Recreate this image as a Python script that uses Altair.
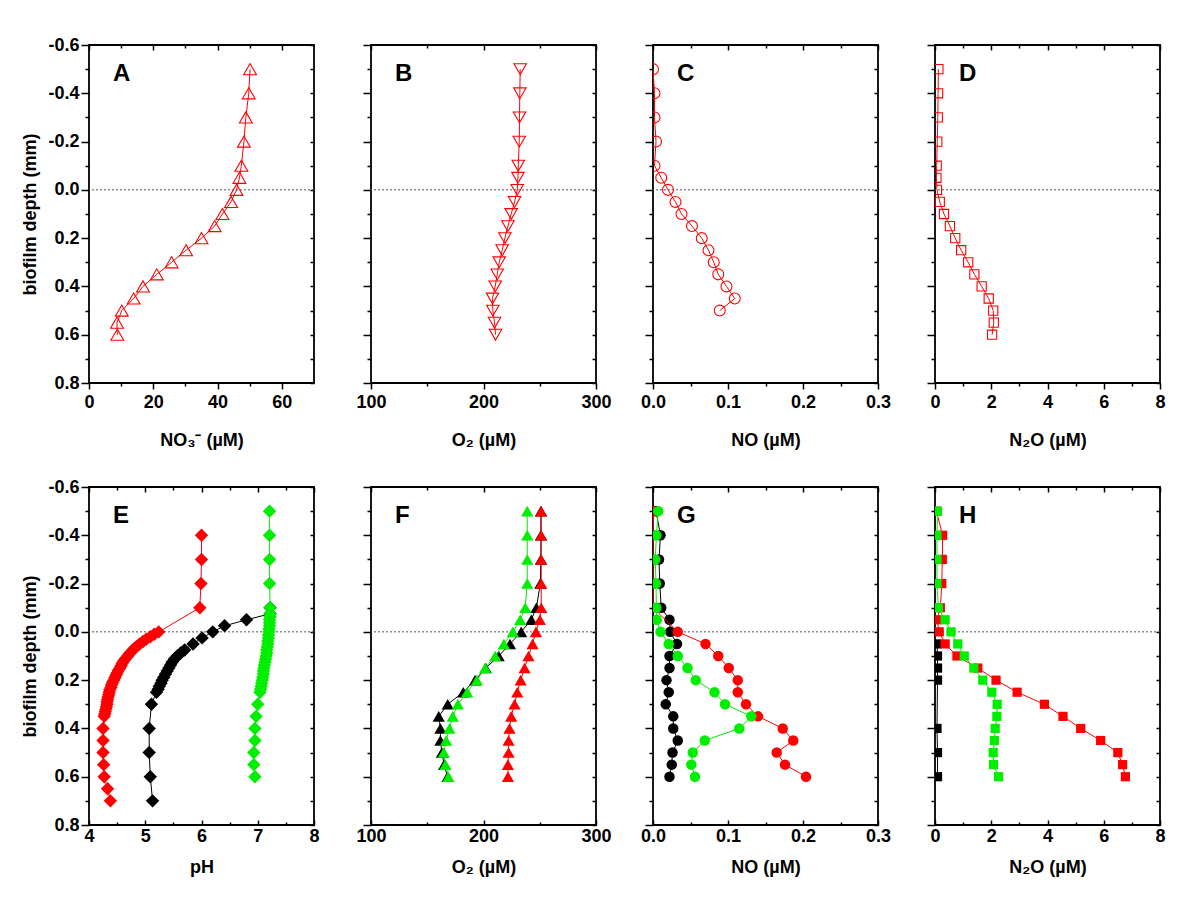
import altair as alt
import pandas as pd

FONT = "Liberation Sans"
RED, GREEN, BLACK = "#ff0000", "#00ee00", "#000000"

# ---------------- data ----------------
depth_std = [-0.5, -0.4, -0.3, -0.2, -0.1, -0.05, 0.0, 0.05, 0.1, 0.15, 0.2,
             0.25, 0.3, 0.35, 0.4, 0.45, 0.5, 0.55, 0.6]

A_no3 = [50.1, 49.7, 48.8, 48.2, 47.4, 46.8, 45.9, 44.2, 41.5, 39.1, 35.0,
         30.2, 25.7, 21.1, 16.8, 13.9, 10.2, 8.7, 8.8]
B_o2 = [232.6, 232.3, 232.0, 231.8, 230.9, 230.6, 230.0, 227.6, 224.6, 221.7,
        219.0, 216.6, 214.0, 212.2, 210.4, 208.0, 208.3, 209.8, 210.7]
C_depth = [-0.5, -0.4, -0.3, -0.2, -0.1, -0.05, 0.0, 0.05, 0.1, 0.15, 0.2,
           0.25, 0.3, 0.35, 0.4, 0.45, 0.5]
C_no = [0.0, 0.002, 0.002, 0.004, 0.002, 0.011, 0.020, 0.030, 0.038, 0.052,
        0.065, 0.074, 0.081, 0.087, 0.098, 0.109, 0.089]
D_n2o = [0.12, 0.11, 0.10, 0.08, 0.06, 0.05, 0.07, 0.17, 0.32, 0.53, 0.72,
         0.93, 1.18, 1.40, 1.66, 1.91, 2.07, 2.09, 2.03]

E_red_depth = [-0.4, -0.3, -0.2, -0.1,
               0.0, 0.01, 0.02, 0.03, 0.04, 0.05, 0.06, 0.07, 0.08, 0.09,
               0.10, 0.11, 0.12, 0.13, 0.14, 0.15, 0.16, 0.17, 0.18, 0.19,
               0.20, 0.21, 0.22, 0.23, 0.24, 0.25, 0.26, 0.27, 0.28, 0.29,
               0.30, 0.31, 0.32, 0.33, 0.34, 0.35,
               0.40, 0.45, 0.50, 0.55, 0.60, 0.65, 0.70]
E_red_ph = [6.00, 6.00, 5.99, 5.97,
            5.24, 5.16, 5.09, 5.02, 4.96, 4.90, 4.85, 4.80, 4.76, 4.72,
            4.69, 4.65, 4.62, 4.59, 4.57, 4.55, 4.52, 4.50, 4.48, 4.46,
            4.44, 4.42, 4.40, 4.39, 4.37, 4.36, 4.35, 4.34, 4.33, 4.32,
            4.32, 4.31, 4.30, 4.29, 4.28, 4.27,
            4.25, 4.25, 4.25, 4.26, 4.27, 4.33, 4.38]
E_black_depth = [-0.1, -0.075, -0.05, -0.025, 0.0, 0.025, 0.05, 0.075, 0.0875,
                 0.1, 0.1125, 0.125, 0.1375, 0.15, 0.1625, 0.175, 0.1875, 0.2,
                 0.2125, 0.225, 0.2375, 0.25, 0.3, 0.4, 0.5, 0.6, 0.7]
E_black_ph = [7.22, 7.22, 6.80, 6.41, 6.20, 6.01, 5.85, 5.70, 5.63,
              5.57, 5.52, 5.48, 5.45, 5.42, 5.39, 5.36, 5.33, 5.30,
              5.28, 5.25, 5.23, 5.20, 5.11, 5.07, 5.07, 5.09, 5.13]
E_green_depth = [-0.5, -0.4, -0.3, -0.2, -0.1,
                 -0.075, -0.0625, -0.05, -0.0375, -0.025, -0.0125, 0.0,
                 0.0125, 0.025, 0.0375, 0.05, 0.0625, 0.075, 0.0875, 0.1,
                 0.1125, 0.125, 0.1375, 0.15, 0.1625, 0.175, 0.1875, 0.2,
                 0.2125, 0.225, 0.2375, 0.25,
                 0.3, 0.35, 0.4, 0.45, 0.5, 0.55, 0.6]
E_green_ph = [7.21, 7.21, 7.21, 7.21, 7.22,
              7.22, 7.22, 7.21, 7.21, 7.21, 7.20, 7.20,
              7.19, 7.19, 7.18, 7.18, 7.17, 7.16, 7.16, 7.15,
              7.14, 7.13, 7.12, 7.11, 7.10, 7.10, 7.09, 7.08,
              7.07, 7.06, 7.05, 7.04,
              7.00, 6.97, 6.95, 6.95, 6.93, 6.93, 6.95]

F_black_o2 = [251.0, 251.0, 251.0, 250.5, 247.0, 242.5, 233.5, 223.5, 213.5,
              202.0, 192.5, 182.0, 168.2, 160.2, 161.7, 161.7, 163.0, 165.0, 168.0]
F_red_o2 = [251.3, 251.3, 251.3, 251.3, 251.3, 250.1, 246.6, 243.6, 240.0,
            236.5, 233.0, 230.0, 227.6, 224.6, 223.1, 222.3, 222.3, 221.7, 221.7]
F_green_o2 = [238.9, 238.9, 238.9, 238.9, 237.1, 232.6, 226.1, 218.1, 210.4,
              201.5, 194.1, 185.5, 177.2, 172.7, 169.7, 166.8, 164.7, 166.2, 168.8]

G_black_no = [0.004, 0.010, 0.008, 0.009, 0.011, 0.022, 0.023, 0.032, 0.022,
              0.022, 0.018, 0.021, 0.017, 0.027, 0.027, 0.033, 0.026, 0.025, 0.022]
G_red_depth = [-0.5, -0.4, -0.3, -0.2, -0.1, 0.0, 0.05, 0.1, 0.15, 0.2,
               0.25, 0.3, 0.35, 0.4, 0.45, 0.5, 0.55, 0.6]
G_red_no = [0.001, 0.0, 0.0, 0.0, 0.0, 0.033, 0.070, 0.087, 0.101, 0.113,
            0.113, 0.124, 0.140, 0.173, 0.187, 0.165, 0.176, 0.204]
G_green_no = [0.007, 0.0045, 0.003, 0.004, 0.0045, 0.005, 0.010, 0.021, 0.033,
              0.046, 0.057, 0.082, 0.096, 0.131, 0.115, 0.069, 0.053, 0.051, 0.056]

H_black_depth = [0.05, 0.1, 0.15, 0.2, 0.4, 0.5, 0.6]
H_black_n2o = [0.07, 0.09, 0.09, 0.09, 0.07, 0.09, 0.09]
H_red_n2o = [0.05, 0.27, 0.26, 0.24, 0.19, 0.07, 0.15, 0.36, 0.78, 1.52, 2.17,
             2.92, 3.89, 4.55, 5.18, 5.89, 6.50, 6.67, 6.77]
H_green_n2o = [0.09, 0.07, 0.07, 0.07, 0.12, 0.36, 0.57, 0.81, 1.04, 1.38, 1.70,
               2.02, 2.21, 2.20, 2.14, 2.11, 2.07, 2.08, 2.26]

y_major = [-0.6, -0.4, -0.2, 0.0, 0.2, 0.4, 0.6, 0.8]
y_minor = [-0.5, -0.3, -0.1, 0.1, 0.3, 0.5, 0.7]

X_NO3 = dict(dom=[0, 70], major=[0, 20, 40, 60], minor=[10, 30, 50], dec=0)
X_O2 = dict(dom=[100, 300], major=[100, 200, 300], minor=[150, 250], dec=0)
X_NO = dict(dom=[0, 0.3], major=[0, 0.1, 0.2, 0.3], minor=[0.05, 0.15, 0.25], dec=1)
X_N2O = dict(dom=[0, 8], major=[0, 2, 4, 6, 8], minor=[1, 3, 5, 7], dec=0)
X_PH = dict(dom=[4, 8], major=[4, 5, 6, 7, 8], minor=[4.5, 5.5, 6.5, 7.5], dec=0)

W, H = 225, 338
YEXPR = "datum.value < 0 ? '-' + format(abs(datum.value), '.1f') : format(datum.value, '.1f')"


def panel(series, xs, xtitle, letter, shape, filled, size, show_y, row):
    xscale = alt.Scale(domain=xs["dom"], nice=False, zero=False)
    yscale = alt.Scale(domain=[-0.6, 0.8], nice=False, zero=False, reverse=True)
    xexpr = "format(datum.value, '.%df')" % xs["dec"]
    frames = []
    for name, d, v, c in series:
        frames.append(pd.DataFrame({"depth": d, "value": v, "s": name,
                                    "i": list(range(len(d)))}))
    df = pd.concat(frames, ignore_index=True)

    left_main = alt.Axis(orient="left", values=y_major, labels=show_y,
                         labelExpr=YEXPR, tickSize=8, labelPadding=2,
                         titlePadding=8)
    left_minor = alt.Axis(orient="left", values=y_minor, labels=False, tickSize=4)
    right_all = alt.Axis(orient="right", values=y_major + y_minor, labels=False,
                         tickSize=4, offset=-4)
    top_major = alt.Axis(orient="top", values=xs["major"], labels=False,
                         tickSize=5, offset=-5)
    top_minor = alt.Axis(orient="top", values=xs["minor"], labels=False,
                         tickSize=3, offset=-3)
    if row == 1:
        bottom_main = alt.Axis(orient="bottom", values=xs["major"], labelExpr=xexpr,
                               tickSize=6, labelPadding=4, titlePadding=20)
        bottom_minor = alt.Axis(orient="bottom", values=xs["minor"], labels=False,
                                tickSize=3)
        pairs = [(bottom_main, left_main, xtitle, "biofilm depth (mm)" if show_y else None),
                 (bottom_minor, left_minor, None, None),
                 (top_major, right_all, None, None),
                 (top_minor, None, None, None)]
    else:
        bottom_main = alt.Axis(orient="bottom", values=xs["major"], labelExpr=xexpr,
                               ticks=False, tickSize=0, labelPadding=2,
                               titlePadding=13)
        bottom_in = alt.Axis(orient="bottom", values=xs["major"], labels=False,
                             tickSize=5, offset=-5)
        bottom_in_minor = alt.Axis(orient="bottom", values=xs["minor"], labels=False,
                                   tickSize=3, offset=-3)
        pairs = [(bottom_main, left_main, xtitle, "biofilm depth (mm)" if show_y else None),
                 (bottom_in, left_minor, None, None),
                 (bottom_in_minor, right_all, None, None),
                 (top_major, None, None, None),
                 (top_minor, None, None, None)]

    layers = []
    for xa, ya, xt, yt in pairs:
        layers.append(alt.Chart(df).mark_point(opacity=0).encode(
            x=alt.X("value:Q", scale=xscale, axis=xa, title=xt),
            y=alt.Y("depth:Q", scale=yscale, axis=ya, title=yt),
        ))

    zero = pd.DataFrame({"z": [0.0]})
    layers.append(alt.Chart(zero).mark_rule(
        color="#555555", strokeWidth=1, strokeDash=[2, 2]
    ).encode(y=alt.Y("z:Q", scale=yscale, axis=None)))

    for name, d, v, c in series:
        sdf = df[df["s"] == name]
        enc = dict(x=alt.X("value:Q", scale=xscale, axis=None),
                   y=alt.Y("depth:Q", scale=yscale, axis=None))
        layers.append(alt.Chart(sdf).mark_line(color=c, strokeWidth=1, clip=True)
                      .encode(order="i:Q", **enc))
        if filled:
            pm = alt.Chart(sdf).mark_point(shape=shape, filled=True, color=c,
                                           size=size, opacity=1, clip=True)
        else:
            pm = alt.Chart(sdf).mark_point(shape=shape, filled=False, color=c,
                                           size=size, opacity=1, strokeWidth=1.1,
                                           clip=True)
        layers.append(pm.encode(**enc))

    lab = pd.DataFrame({"t": [letter]})
    layers.append(alt.Chart(lab).mark_text(
        font=FONT, fontSize=24, fontWeight="bold", align="left",
        baseline="middle", color="black"
    ).encode(x=alt.value(24), y=alt.value(29), text="t:N"))

    return alt.layer(*layers).resolve_axis(x="independent", y="independent").properties(
        width=W, height=H)


pA = panel([("r", depth_std, A_no3, RED)], X_NO3, "NO₃⁻ (µM)", "A",
           "triangle-up", False, 165, True, 1)
pB = panel([("r", depth_std, B_o2, RED)], X_O2, "O₂ (µM)", "B",
           "triangle-down", False, 155, False, 1)
pC = panel([("r", C_depth, C_no, RED)], X_NO, "NO (µM)", "C",
           "circle", False, 120, False, 1)
pD = panel([("r", depth_std, D_n2o, RED)], X_N2O, "N₂O (µM)", "D",
           "square", False, 85, False, 1)

pE = panel([("k", E_black_depth, E_black_ph, BLACK),
            ("r", E_red_depth, E_red_ph, RED),
            ("g", E_green_depth, E_green_ph, GREEN)], X_PH, "pH", "E",
           "diamond", True, 180, True, 2)
pF = panel([("k", depth_std, F_black_o2, BLACK),
            ("r", depth_std, F_red_o2, RED),
            ("g", depth_std, F_green_o2, GREEN)], X_O2, "O₂ (µM)", "F",
           "triangle-up", True, 150, False, 2)
pG = panel([("k", depth_std, G_black_no, BLACK),
            ("r", G_red_depth, G_red_no, RED),
            ("g", depth_std, G_green_no, GREEN)], X_NO, "NO (µM)", "G",
           "circle", True, 110, False, 2)
pH = panel([("k", H_black_depth, H_black_n2o, BLACK),
            ("r", depth_std, H_red_n2o, RED),
            ("g", depth_std, H_green_n2o, GREEN)], X_N2O, "N₂O (µM)", "H",
           "square", True, 85, False, 2)

chart = alt.concat(pA, pB, pC, pD, pE, pF, pG, pH, columns=4,
                   spacing={"row": 104, "column": 57}, bounds="flush").properties(
    padding={"left": 13, "top": 27, "right": 5, "bottom": 5},
    background="white"
).configure_view(stroke="black", strokeWidth=1.8).configure_axis(
    labelFont=FONT, labelFontSize=18, labelFontWeight="bold", labelColor="black",
    titleFont=FONT, titleFontSize=18, titleFontWeight="bold", titleColor="black",
    tickColor="black", tickWidth=1.5, domain=False, grid=False,
    labelFlush=False, labelOverlap=False, labelBound=False
)

chart.save("out.html", embed_options={"renderer": "svg", "actions": False})
